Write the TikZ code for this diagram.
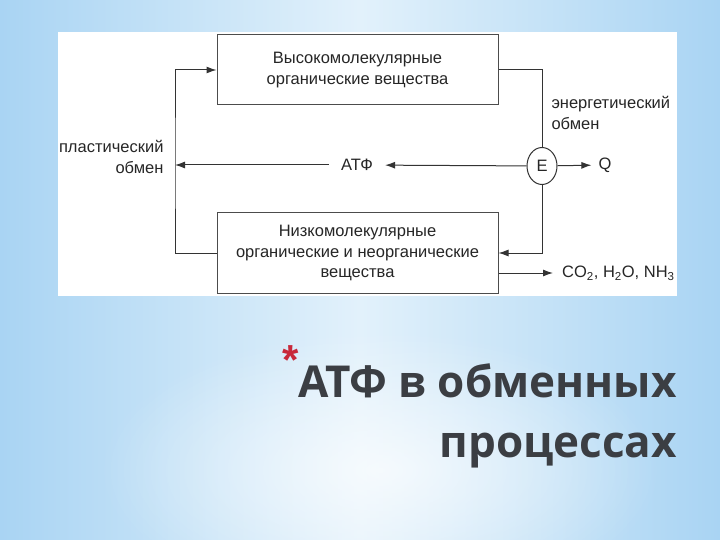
\documentclass[tikz,border=0pt]{standalone}
\usepackage{fontspec}
\setmainfont{Liberation Sans}
\newfontfamily\titlefont{Open Sans}
\usetikzlibrary{positioning,fadings,shapes.geometric,arrows.meta}

\definecolor{skyedge}{HTML}{A9D4F3}
\definecolor{skymid}{HTML}{E2F1FB}
\definecolor{titlegray}{HTML}{3B3E43}
\definecolor{bulletred}{HTML}{C8283A}
\tikzfading[name=softspot, inner color=transparent!0, outer color=transparent!100]

\begin{document}
\begin{tikzpicture}[x=1pt,y=-1pt,
	every node/.style = {font=\fontsize{16.5}{20.5}\selectfont, text=black!85},
	conn/.style = {draw=black!80, line width=1pt},
	arr/.style = {conn, -{Latex[length=10pt,width=7pt]}},
	substbox/.style = {draw=black!70, line width=1pt,
		minimum width=281pt, align=center, inner sep=0pt}]
	\useasboundingbox (0,0) rectangle (720,540);
	% background of the slide
	\shade[left color=skyedge, right color=skyedge, middle color=skymid]
		(0,0) rectangle (720,540);
	\fill[white, path fading=softspot, opacity=0.7]
		(380,470) ellipse [x radius=280, y radius=140];
	\fill[white] (58,32) rectangle (677,296);

	% substances
	\node[substbox, minimum height=70pt] (high) at (357.5,70)
		{Высокомолекулярные\\органические вещества};
	\node[substbox, minimum height=80pt] (low) at (357.5,253)
		{Низкомолекулярные\\органические и неорганические\\вещества};
	\node[ellipse, draw=black!80, line width=1pt, minimum width=30pt,
		minimum height=37pt, inner sep=0pt] (E) at (542,166) {E};
	\node[inner xsep=12pt] (atf) at (357,165) {АТФ};
	\node[inner xsep=7pt] (q) at (605,165) {Q};
	\node[anchor=west, inner xsep=9pt] (prod) at (553,273)
		{CO\textsubscript{2}, H\textsubscript{2}O, NH\textsubscript{3}};
	\node[anchor=east, align=right] (plast) at (167,157) {пластический\\обмен};
	\node[anchor=west, align=left] (energ) at (548,113) {энергетический\\обмен};
	\coordinate (lft) at (175,165);

	% exchange paths
	\draw[arr] (low.west) -| (lft) |- (high.west);
	\draw[arr] (E) -- (atf);
	\draw[arr] (atf) -- (lft);
	\draw[conn] (high.east) -| (E);
	\draw[arr] (E) |- (low.east);
	\draw[arr] (E) -- (q);
	\draw[arr] (low.east |- prod.west) -- (prod.west);

	% title
	\node[text=bulletred, font=\fontsize{42}{42}\selectfont\bfseries] (bullet)
		at (291,360) {*};
	\node[font=\titlefont\bfseries\fontsize{44}{60}\selectfont, text=titlegray,
		align=right, anchor=base east, inner sep=0pt] (title) at (677,457)
		{АТФ в обменных\\процессах};
\end{tikzpicture}
\end{document}
